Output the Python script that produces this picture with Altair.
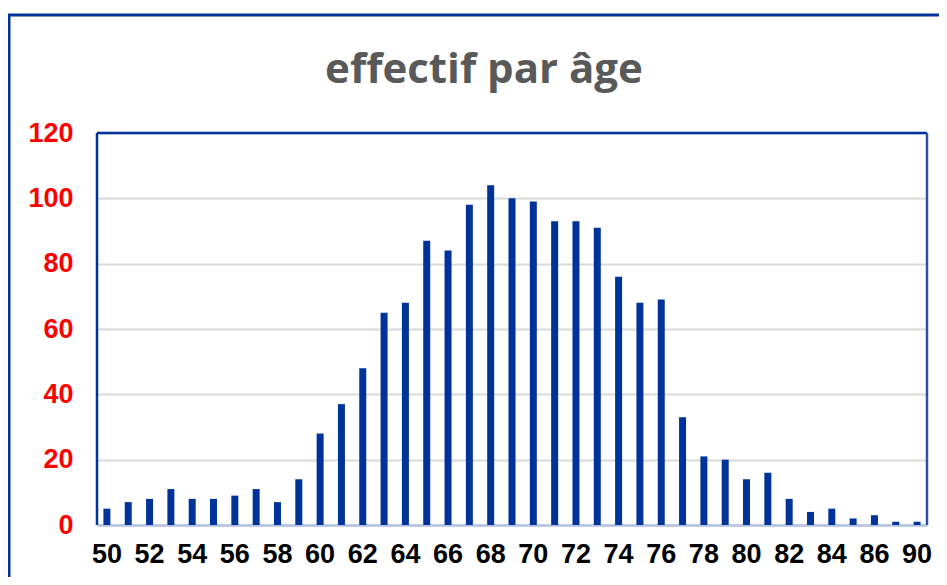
import altair as alt
import pandas as pd

ages = list(range(50, 88)) + [90]
counts = [5, 7, 8, 11, 8, 8, 9, 11, 7, 14,
          28, 37, 48, 65, 68, 87, 84, 98, 104, 100,
          99, 93, 93, 91, 76, 68, 69, 33, 21, 20,
          14, 16, 8, 4, 5, 2, 3, 1, 1]
tick_labels = list(range(50, 88, 2)) + [90]
y_ticks = [0, 20, 40, 60, 80, 100, 120]

df = pd.DataFrame({"age": ages, "n": counts})
one = pd.DataFrame({"k": [0]})

W, H = 830, 392
BLUE = "#003399"

bars = alt.Chart(df).mark_bar(color=BLUE, size=7).encode(
    x=alt.X("age:O", sort=None, title=None,
            scale=alt.Scale(paddingInner=0.67, paddingOuter=0.3),
            axis=alt.Axis(values=tick_labels, labelAngle=0, ticks=False,
                          domainColor="#B4C3E3", domainWidth=2.5,
                          labelFont="Liberation Sans", labelFontWeight="bold",
                          labelFontSize=27, labelColor="#000000",
                          labelPadding=16, grid=False)),
    y=alt.Y("n:Q", title=None,
            scale=alt.Scale(domain=[0, 120], nice=False),
            axis=alt.Axis(values=y_ticks, ticks=False, domain=False,
                          labelFont="Liberation Sans", labelFontWeight="bold",
                          labelFontSize=27, labelColor="#FF0000",
                          labelPadding=24, gridColor="#D9D9D9", gridWidth=2)),
)

left_rule = alt.Chart(one).mark_rule(color=BLUE, strokeWidth=2.5).encode(
    x=alt.value(0), y=alt.value(0), y2=alt.value(H))
top_rule = alt.Chart(one).mark_rule(color=BLUE, strokeWidth=2.5).encode(
    x=alt.value(0), x2=alt.value(W), y=alt.value(0))
right_rule = alt.Chart(one).mark_rule(color="#2A50B0", strokeWidth=2.5).encode(
    x=alt.value(W), y=alt.value(0), y2=alt.value(H))
frame = alt.Chart(one).mark_rect(fillOpacity=0, stroke=BLUE, strokeWidth=3).encode(
    x=alt.value(-88), x2=alt.value(1000), y=alt.value(-118), y2=alt.value(700))

chart = alt.layer(frame, bars, left_rule, top_rule, right_rule).properties(
    width=W, height=H,
    title=alt.TitleParams("effectif par âge", font="Open Sans", fontWeight="bold",
                          fontSize=42, color="#595959", offset=0, dx=-28, dy=78,
                          anchor="middle", frame="group"),
    autosize=alt.AutoSizeParams(type="none"),
    padding={"left": 89, "top": 125, "right": 12, "bottom": 52},
).configure_view(stroke=None)

chart.save("out.html", embed_options={"renderer": "svg", "actions": False})
